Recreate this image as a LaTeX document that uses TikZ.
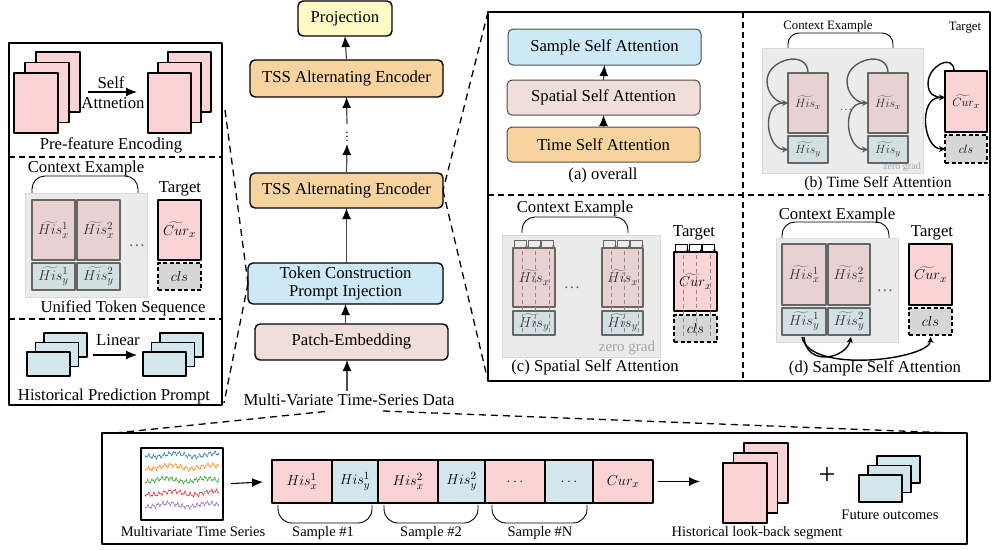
\documentclass[tikz,border=0pt]{standalone}
\usepackage{fontspec}
\setmainfont{Liberation Serif}
\usetikzlibrary{arrows.meta,calc}
\definecolor{pinkF}{HTML}{FAD4D4}
\definecolor{cyanF}{HTML}{D3E6EB}
\definecolor{pinkM}{HTML}{E8D1D1}
\definecolor{cyanM}{HTML}{D2E0E4}
\definecolor{zgF}{HTML}{EBEBEB}
\definecolor{zgD}{HTML}{D9D9D9}
\definecolor{bgray}{HTML}{666666}
\definecolor{orangeF}{HTML}{F7D49F}
\definecolor{tokF}{HTML}{CDE8F7}
\definecolor{patchF}{HTML}{F0DEDB}
\definecolor{projF}{HTML}{FDFAC6}
\definecolor{clsF}{HTML}{D6D6D6}
\definecolor{tsB}{HTML}{1F77B4}
\definecolor{tsO}{HTML}{FF7F0E}
\definecolor{tsG}{HTML}{2CA02C}
\definecolor{tsR}{HTML}{D62728}
\definecolor{tsP}{HTML}{9467BD}
\begin{document}
\begin{tikzpicture}[x=1pt,y=-1pt,line join=round,
  >={Latex[length=11pt,width=9pt,color=black]},
  every node/.style={inner sep=0pt,outer sep=0pt},
  T/.style={font=\fontsize{16.7}{18}\selectfont},
  Ts/.style={font=\fontsize{14.5}{16}\selectfont},
  Tb/.style={font=\fontsize{12.8}{14}\selectfont},
  M/.style={font=\fontsize{15}{17}\selectfont},
  Mb/.style={font=\fontsize{12.5}{14}\selectfont},
  rbox/.style={draw=black,line width=1.4pt,rounded corners=5pt,font=\fontsize{16.7}{18}\selectfont,align=center},
  page/.style={draw=black,line width=1.3pt},
  pinkpage/.style={page,fill=pinkF},
  cyanpage/.style={page,fill=cyanF},
  panel/.style={draw=black,line width=1.4pt},
  sep/.style={line width=1.3pt,dash pattern=on 6pt off 4pt},
  zoomline/.style={line width=1.3pt,dash pattern=on 7pt off 5pt},
  zg/.style={fill=zgF,draw=zgD,line width=1pt},
  mx/.style={draw=bgray,line width=1.4pt,fill=pinkM,M,text=black!80},
  my/.style={draw=bgray,line width=1.4pt,fill=cyanM,M,text=black!80},
  tx/.style={draw=black,line width=1.4pt,fill=pinkF,M},
  tcls/.style={draw=black,line width=1.4pt,fill=clsF,dash pattern=on 4pt off 2.5pt,M},
  brace/.style={draw=black,line width=0.9pt,rounded corners=13pt},
  arr/.style={draw=black!70,line width=1.2pt,->},
  loopg/.style={draw=black!65,line width=1.4pt,-{Stealth[length=6pt,width=6pt]}},
  loopk/.style={draw=black,line width=1.4pt,-{Stealth[length=6pt,width=6pt]}},
  arch/.style={draw=black!60,line width=1pt,-{Latex[length=2.5pt,width=3pt]}},
  archk/.style={draw=black,line width=1pt,-{Latex[length=2.5pt,width=3pt]}},
  vdash/.style={draw=black!45,line width=1pt,dash pattern=on 4pt off 3pt},
  cell/.style={draw=black,line width=1.4pt,minimum height=43,M},
  tsline/.style={line width=0.5pt}
]
\useasboundingbox (0,0) rectangle (992,549);

%================ LEFT PANEL ================
\node[panel,minimum width=213,minimum height=362] (lp) at (115.5,224) {};
\draw[sep] (9,157) -- (222,157);
\draw[sep] (9,319) -- (222,319);
% pre-feature encoding
\draw[pinkpage] (36,52) rectangle (80,112);
\draw[pinkpage] (25,62.5) rectangle (69,122.5);
\node[pinkpage,minimum width=44,minimum height=60] (pfL) at (36,103) {};
\draw[pinkpage] (168,52) rectangle (211,112);
\draw[pinkpage] (158,62.5) rectangle (201,122.5);
\node[pinkpage,minimum width=43,minimum height=60] (pfR) at (169.5,103) {};
\coordinate (sa1) at (88,92);
\coordinate (sa2) at (137,92);
\draw[line width=1.1pt,->] (sa1) -- (sa2);
\node[T] (selfl) at (111,83) {Self};
\node[T] (attl) at (113,103) {Attnetion};
\node[T] (pfe) at (111,145) {Pre-feature Encoding};
% unified token sequence
\node[T] (lce) at (86,168) {Context Example};
\draw[brace] (32,193) -- (32,176) -- (138,176) -- (138,193);
\draw[zg] (25,193) rectangle (147,297);
\node[mx,minimum width=43,minimum height=60] (lhx1) at (53.5,230) {$\widetilde{His}{}_x^1$};
\node[mx,minimum width=43,minimum height=60] (lhx2) at (98.5,230) {$\widetilde{His}{}_x^2$};
\node[my,minimum width=43,minimum height=27] (lhy1) at (53.5,276.5) {$\widetilde{His}{}_y^1$};
\node[my,minimum width=43,minimum height=27] (lhy2) at (98.5,276.5) {$\widetilde{His}{}_y^2$};
\node[T,text=black!60] (ldots) at (137,246) {\ldots};
\node[T] (ltg) at (180,189) {Target};
\node[tx,minimum width=43,minimum height=60] (lcur) at (179.5,230) {$\widetilde{Cur}{}_x$};
\node[tcls,minimum width=43,minimum height=27] (lcls) at (179.5,276.5) {$cls$};
\node[T] (uts) at (123,308) {Unified Token Sequence};
% historical prediction prompt
\draw[cyanpage] (44,333) rectangle (87,357);
\draw[cyanpage] (35.5,342.5) rectangle (78.5,366.5);
\node[cyanpage,minimum width=43,minimum height=24] (hpL) at (48.5,364) {};
\draw[cyanpage] (160,333) rectangle (203,357);
\draw[cyanpage] (151.5,342.5) rectangle (194.5,366.5);
\node[cyanpage,minimum width=43,minimum height=24] (hpR) at (164.5,364) {};
\coordinate (la1) at (93,355);
\coordinate (la2) at (137,355);
\draw[line width=1.1pt,->] (la1) -- (la2);
\node[T] (lin) at (118,340) {Linear};
\node[T] (hpp) at (114,396) {Historical Prediction Prompt};

%================ CENTER COLUMN ================
\node[rbox,fill=projF,minimum width=94,minimum height=35] (proj) at (345,18.5) {Projection};
\node[rbox,fill=orangeF,minimum width=193,minimum height=37] (tss1) at (346.5,78.5) {TSS Alternating Encoder};
\node[minimum height=20,font=\fontsize{13}{14}\selectfont] (vd) at (347,134) {$\vdots$};
\node[rbox,fill=orangeF,minimum width=193,minimum height=35] (tss2) at (346.5,190.5) {TSS Alternating Encoder};
\node[rbox,fill=tokF,minimum width=195,minimum height=41,font=\fontsize{16.7}{17.5}\selectfont] (tok) at (345.5,283.5) {Token Construction\\Prompt Injection};
\node[rbox,fill=patchF,minimum width=193,minimum height=36] (patch) at (351.5,342) {Patch-Embedding};
\node[T] (data) at (349,400) {Multi-Variate Time-Series Data};
\draw[arr] (tss1.north) -- (proj.south);
\draw[arr] (vd.north) -- (tss1.south);
\draw[arr] (tss2.north) -- (vd.south);
\draw[arr] (tok.north -| tss2.south) -- (tss2.south);
\draw[arr] (patch.north -| tok.south) -- (tok.south);
\draw[arr] (data.north -| 347,0) ++(0,-3) -- (patch.south -| 347,0);

%================ RIGHT PANEL ================
\node[panel,minimum width=502,minimum height=369] (rp) at (739,196.5) {};
\draw[sep] (743,12) -- (743,381);
\draw[sep] (488,195) -- (990,195);
% (a)
\node[rbox,fill=tokF,minimum width=193,minimum height=36,line width=1pt,draw=black!70] (ssa) at (604.5,47) {Sample Self Attention};
\node[rbox,fill=patchF,minimum width=193,minimum height=35,line width=1pt,draw=black!70] (spa) at (603.5,97.5) {Spatial Self Attention};
\node[rbox,fill=orangeF,minimum width=193,minimum height=35,line width=1pt,draw=black!70] (tsa) at (603.5,144.5) {Time Self Attention};
\draw[arr] (tsa.north) -- (spa.south);
\draw[arr] (spa.north) -- (ssa.south);
\node[T] (capa) at (603,175) {(a) overall};
% (b)
\node[Tb] (bce) at (828,26) {Context Example};
\draw[brace,rounded corners=11pt] (788,48) -- (788,33) -- (893,33) -- (893,48);
\draw[zg] (762,48) rectangle (923,173);
\node[font=\fontsize{10}{11}\selectfont,text=black!35] (bzg) at (902,167) {zero grad};
\node[mx,Mb,minimum width=40,minimum height=60] (bLx) at (808,103) {$\widetilde{His}{}_x$};
\node[my,Mb,minimum width=40,minimum height=27] (bLy) at (808,149.5) {$\widetilde{His}{}_y$};
\node[mx,Mb,minimum width=40,minimum height=60] (bRx) at (888,103) {$\widetilde{His}{}_x$};
\node[my,Mb,minimum width=40,minimum height=27] (bRy) at (888,149.5) {$\widetilde{His}{}_y$};
\node[Tb,text=black!60] (bdots) at (846,110) {\ldots};
\node[Tb] (btg) at (965,28) {Target};
\node[tx,Mb,minimum width=42,minimum height=61] (bcur) at (966,101.5) {$\widetilde{Cur}{}_x$};
\node[tcls,Mb,minimum width=42,minimum height=28] (bcls) at (966,149) {$cls$};
\foreach \b/\y/\s in {bLx/bLy/loopg,bRx/bRy/loopg}{
  \draw[\s] (\b.north) .. controls +(0,-24) and +(0,-22) .. ($(\b.west)+(-21,-22)$) .. controls +(0,14) and +(-10,0) .. (\b.west);
  \draw[\s] ($(\b.west)+(-5,0)$) .. controls +(-22,0) and +(-22,0) .. (\y.west);
}
\draw[loopk] ($(bcur.north)+(-12,0)$) .. controls +(0,-18) and +(0,-18) .. ($(bcur.west)+(-17,-18)$) .. controls +(0,12) and +(-8,0) .. ($(bcur.west)+(0,-4)$);
\draw[loopk] ($(bcur.west)+(-5,-4)$) .. controls +(-22,0) and +(-22,0) .. (bcls.west);
\node[font=\fontsize{15.7}{17}\selectfont] (capb) at (878,184) {(b) Time Self Attention};
% (c)
\node[T] (cce) at (575,208) {Context Example};
\draw[brace] (522,233) -- (522,217) -- (628,217) -- (628,233);
\draw[zg] (502,235) rectangle (660,357);
\node[font=\fontsize{15}{17}\selectfont,text=black!35] (czg) at (627,348) {zero grad};
\node[mx,minimum width=42,minimum height=59] (cLx) at (534,277.5) {$\widetilde{His}{}_x$};
\node[my,minimum width=42,minimum height=24] (cLy) at (534,323) {$\widetilde{His}{}_y$};
\node[mx,minimum width=41,minimum height=59] (cRx) at (622.5,277.5) {$\widetilde{His}{}_x$};
\node[my,minimum width=41,minimum height=24] (cRy) at (622.5,323) {$\widetilde{His}{}_y$};
\node[T,text=black!60] (cdots) at (572,288) {\ldots};
\node[T] (ctg) at (694,233) {Target};
\node[tx,minimum width=43,minimum height=59] (ccur) at (695.5,281.5) {$\widetilde{Cur}{}_x$};
\node[tcls,minimum width=43,minimum height=27] (ccls) at (695.5,328.5) {$cls$};
\foreach \b/\y in {cLx/cLy,cRx/cRy}{
  \foreach \i in {0,1,2}{
    \draw[vdash] ($(\b.north west)+(9+13.5*\i,3)$) -- ($(\y.south west)+(9+13.5*\i,-3)$);
    \draw[arch] ($(\b.north west)+(1.5+13.5*\i,0)$) -- ++(0,-8) -- ++(12,0) -- ++(0,8);
  }
}
\foreach \i in {0,1,2}{
  \draw[vdash] ($(ccur.north west)+(9+13.5*\i,3)$) -- ($(ccls.south west)+(9+13.5*\i,-3)$);
  \draw[archk] ($(ccur.north west)+(1.5+13.5*\i,0)$) -- ++(0,-8) -- ++(12,0) -- ++(0,8);
}
\node[T] (capc) at (595,367) {(c) Spatial Self Attention};
% (d)
\node[T] (dce) at (837,215) {Context Example};
\draw[brace] (782,240) -- (782,222) -- (889,222) -- (889,240);
\draw[zg] (776,238) rectangle (898,342);
\node[mx,minimum width=44,minimum height=61] (dx1) at (804,274.5) {$\widetilde{His}{}_x^1$};
\node[mx,minimum width=42,minimum height=61] (dx2) at (849,274.5) {$\widetilde{His}{}_x^2$};
\node[my,minimum width=44,minimum height=27] (dy1) at (804,321.5) {$\widetilde{His}{}_y^1$};
\node[my,minimum width=42,minimum height=27] (dy2) at (849,321.5) {$\widetilde{His}{}_y^2$};
\node[T,text=black!60] (ddots) at (885,291) {\ldots};
\node[T] (dtg) at (932,233) {Target};
\node[tx,minimum width=43,minimum height=61] (dcur) at (930.5,274.5) {$\widetilde{Cur}{}_x$};
\node[tcls,minimum width=43,minimum height=27] (dcls) at (930.5,321.5) {$cls$};
\draw[loopk] ($(dy1.south)+(0,2)$) .. controls +(2,30) and +(-5,22) .. ($(dy2.south)+(2,2)$);
\draw[loopk] ($(dy1.south)+(-2,2)$) .. controls +(8,38) and +(0,22) .. ($(dcls.south)+(0,2)$);
\node[T] (capd) at (875,368) {(d) Sample Self Attention};

%================ BOTTOM PANEL ================
\node[panel,minimum width=865,minimum height=111] (bp) at (534.5,488.5) {};
\node[draw=black,line width=1.4pt,fill=white,minimum width=82,minimum height=72] (ts) at (182,484) {};
\foreach \y/\c/\a/\b/\p in {455/tsB/71/163/0,467/tsO/67/157/40,480/tsG/75/177/80,493/tsR/69/149/20,505/tsP/73/169/60}{
  \draw[tsline,\c] plot[domain=0:74,samples=150] ({145+\x},{\y+1.6*sin(\x*\a+\p)+1.2*sin(\x*\b+2*\p)+1.8*sin(\x*9+\p)});
}
\node[Ts] (tsl) at (193,532) {Multivariate Time Series};
\node[cell,fill=pinkF,minimum width=60] (c1) at (302,481.5) {$His_x^1$};
\node[cell,fill=cyanF,minimum width=46] (c2) at (355,481.5) {$His_y^1$};
\node[cell,fill=pinkF,minimum width=60] (c3) at (408,481.5) {$His_x^2$};
\node[cell,fill=cyanF,minimum width=47] (c4) at (461.5,481.5) {$His_y^2$};
\node[cell,fill=pinkF,minimum width=60] (c5) at (515,481.5) {$\ldots$};
\node[cell,fill=cyanF,minimum width=48] (c6) at (569,481.5) {$\ldots$};
\node[cell,fill=pinkF,minimum width=60] (c7) at (623,481.5) {$Cur_x$};
\draw[line width=1.1pt,->,shorten <=8pt,shorten >=9pt] (ts.east) -- (c1.west);
\draw[brace,rounded corners=14pt] (278,505) -- (278,523) -- (372,523) -- (372,505);
\draw[brace,rounded corners=14pt] (384,505) -- (384,523) -- (478,523) -- (478,505);
\draw[brace,rounded corners=14pt] (492,505) -- (492,523) -- (587,523) -- (587,505);
\node[Ts] (s1) at (323,533) {Sample \#1};
\node[Ts] (s2) at (431,533) {Sample \#2};
\node[Ts] (sN) at (540,533) {Sample \#N};
\draw[pinkpage] (744,443) rectangle (788,503);
\draw[pinkpage] (733.5,453) rectangle (777.5,513);
\node[pinkpage,minimum width=44,minimum height=60] (hl) at (745,493) {};
\draw[line width=1.1pt,->,shorten <=5pt,shorten >=23pt] (c7.east) -- (c7.east -| hl.west);
\node[Ts] (hll) at (757,533) {Historical look-back segment};
\node[font=\fontsize{30}{30}\selectfont] (plus) at (827,476) {+};
\draw[cyanpage] (877,456) rectangle (920,483);
\draw[cyanpage] (868,465.5) rectangle (911,492.5);
\node[cyanpage,minimum width=43,minimum height=27] (fo) at (880.5,488.5) {};
\node[Ts] (fol) at (890,515) {Future outcomes};

%================ ZOOM LINES ================
\coordinate (lzt) at (225,110);
\coordinate (lzb) at (224,403);
\draw[zoomline] (lzt) -- (tok.west);
\draw[zoomline] (tok.west) -- (lzb);
\draw[zoomline] (rp.north west) -- (tss2.east);
\draw[zoomline] (tss2.east) -- (rp.south west);
\coordinate (dzl) at (330,411);
\coordinate (dzr) at (383,411);
\draw[zoomline] ($(bp.north west)+(13,0)$) -- (dzl);
\draw[zoomline] (dzr) -- ($(bp.north east)+(-15,0)$);
\end{tikzpicture}
\end{document}
